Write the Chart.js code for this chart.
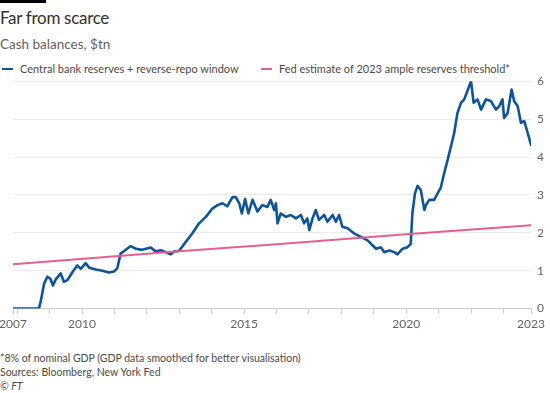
<!DOCTYPE html>
<html><head><meta charset="utf-8">
<script src="https://cdn.jsdelivr.net/npm/chart.js@4"></script>
<style>
html,body{margin:0;padding:0;background:#fff}
body{width:550px;height:393px;position:relative;overflow:hidden;font-family:Lato,"Noto Sans",sans-serif;color:#33302e}
.bar{position:absolute;left:0;top:0;width:46px;height:3px;background:#000}
.title{position:absolute;left:0;top:7px;font-size:17px;letter-spacing:-0.3px;line-height:22px;color:#33302e}
.sub{position:absolute;left:0;top:35px;font-size:13.5px;line-height:18px;color:#66605c}
.leg{position:absolute;top:61px;font-size:11px;line-height:16px;color:#4d4845;white-space:nowrap}
.sw{display:inline-block;width:11px;height:2.5px;vertical-align:middle;margin-right:7px;position:relative;top:-1px}
.wrap{position:absolute;left:0;top:68px;width:550px;height:266px}
.foot{position:absolute;left:0;font-size:10.5px;line-height:14px;color:#4d4845;white-space:nowrap}
</style></head>
<body>
<div class="bar"></div>
<div class="title">Far from scarce</div>
<div class="sub">Cash balances, $tn</div>
<div class="leg" style="left:2px"><span class="sw" style="background:#0f5499"></span>Central bank reserves + reverse-repo window</div>
<div class="leg" style="left:261px"><span class="sw" style="background:#e5608e"></span>Fed estimate of 2023 ample reserves threshold*</div>
<div class="wrap"><canvas id="c"></canvas></div>
<div class="foot" style="top:351px">*8% of nominal GDP (GDP data smoothed for better visualisation)</div>
<div class="foot" style="top:365px">Sources: Bloomberg, New York Fed</div>
<div class="foot" style="top:379px;font-style:italic">© FT</div>
<script>
const reserveYears = [2007.87,2008.67,2008.73,2008.83,2008.93,2009.03,2009.10,2009.19,2009.34,2009.44,2009.55,2009.70,2009.85,2009.96,2010.11,2010.22,2010.42,2010.63,2010.83,2010.99,2011.09,2011.19,2011.30,2011.50,2011.66,2011.86,2012.12,2012.27,2012.43,2012.58,2012.74,2012.84,2012.99,2013.20,2013.40,2013.61,2013.82,2014.02,2014.18,2014.33,2014.48,2014.64,2014.74,2014.85,2014.93,2015.03,2015.13,2015.26,2015.41,2015.56,2015.72,2015.82,2015.93,2015.98,2016.03,2016.13,2016.29,2016.44,2016.60,2016.75,2016.85,2016.95,2017.01,2017.11,2017.21,2017.31,2017.47,2017.57,2017.73,2017.83,2017.93,2018.03,2018.19,2018.40,2018.60,2018.81,2018.96,2019.07,2019.22,2019.32,2019.48,2019.63,2019.73,2019.89,2020.04,2020.14,2020.19,2020.27,2020.35,2020.45,2020.56,2020.61,2020.71,2020.86,2020.97,2021.07,2021.17,2021.28,2021.38,2021.48,2021.58,2021.69,2021.79,2021.87,2022.00,2022.08,2022.20,2022.31,2022.46,2022.61,2022.77,2022.87,2022.97,2023.02,2023.13,2023.25,2023.33,2023.44,2023.54,2023.64,2023.75,2023.85];
const reserveValues = [0.00,0.00,0.21,0.66,0.84,0.78,0.61,0.77,0.93,0.71,0.75,0.96,1.14,1.05,1.20,1.08,1.03,1.00,0.95,0.98,1.07,1.45,1.52,1.65,1.58,1.55,1.61,1.51,1.54,1.49,1.43,1.51,1.52,1.76,1.98,2.25,2.42,2.64,2.73,2.78,2.70,2.94,2.94,2.78,2.51,2.89,2.51,2.87,2.56,2.73,2.68,2.87,2.60,2.78,2.25,2.51,2.42,2.47,2.38,2.47,2.25,2.38,2.07,2.38,2.60,2.34,2.47,2.29,2.47,2.29,2.47,2.16,2.12,1.98,1.89,1.80,1.67,1.58,1.62,1.49,1.53,1.49,1.43,1.58,1.62,1.71,2.51,3.04,3.24,3.13,2.60,2.73,2.87,2.87,3.04,3.20,3.57,3.93,4.28,4.63,5.16,5.43,5.52,5.70,6.00,5.43,5.52,5.25,5.52,5.48,5.25,5.34,5.52,5.03,5.16,5.78,5.48,5.34,4.90,4.95,4.63,4.32];
const thresholdYears = [2007.87,2013.00,2016.00,2020.00,2023.85];
const thresholdValues = [1.17,1.51,1.70,1.96,2.20];
const xTickYears = [2007.87,2008,2009,2010,2011,2012,2013,2014,2015,2016,2017,2018,2019,2020,2021,2022,2023,2023.85];
const xTickLabels = ['2007','','','2010','','','','','2015','','','','','2020','','','','2023'];
const yTicks = [0,1,2,3,4,5,6];

const FONT = 'Lato, "Noto Sans", sans-serif';
new Chart(document.getElementById('c'), {
  type: 'line',
  data: {
    datasets: [
      {label:'Fed estimate of 2023 ample reserves threshold*', data: thresholdYears.map((x,i)=>({x, y: thresholdValues[i]})), borderColor:'#e5608e', borderWidth:2, pointRadius:0, tension:0},
      {label:'Central bank reserves + reverse-repo window', data: reserveYears.map((x,i)=>({x, y: reserveValues[i]})), borderColor:'#0f5499', borderWidth:2.6, pointRadius:0, tension:0, borderJoinStyle:'round', borderCapStyle:'round'}
    ]
  },
  options: {
    responsive: true, maintainAspectRatio: false, animation: false,
    layout: {padding: {left: 0, right: 0, top: 0, bottom: 0}},
    plugins: {legend: {display: false}, tooltip: {enabled: false}},
    scales: {
      x: {
        type: 'linear', min: xTickYears[0], max: xTickYears[xTickYears.length-1],
        afterBuildTicks: s => { s.ticks = xTickYears.map(v => ({value: v})); },
        afterFit: s => { s.paddingLeft = 13; s.paddingRight = 0; },
        ticks: {autoSkip: false, maxRotation: 0, padding: 3, color: '#66605c', font: {family: FONT, size: 12},
          callback: (v, i) => xTickLabels[i]},
        grid: {drawOnChartArea: false, drawTicks: true, tickLength: 5, color: '#cfcbc8'},
        border: {color: '#cfcbc8', width: 1}
      },
      y: {
        position: 'right', min: 0, max: 6,
        afterBuildTicks: s => { s.ticks = yTicks.map(v => ({value: v})); },
        afterFit: s => { s.width = 19; },
        ticks: {padding: 6, color: '#66605c', font: {family: FONT, size: 12}},
        grid: {drawTicks: false, color: ctx => ctx.tick && ctx.tick.value === 0 ? '#cfcbc8' : '#eeebe8'},
        border: {display: false}
      }
    }
  }
});
</script>
</body></html>
